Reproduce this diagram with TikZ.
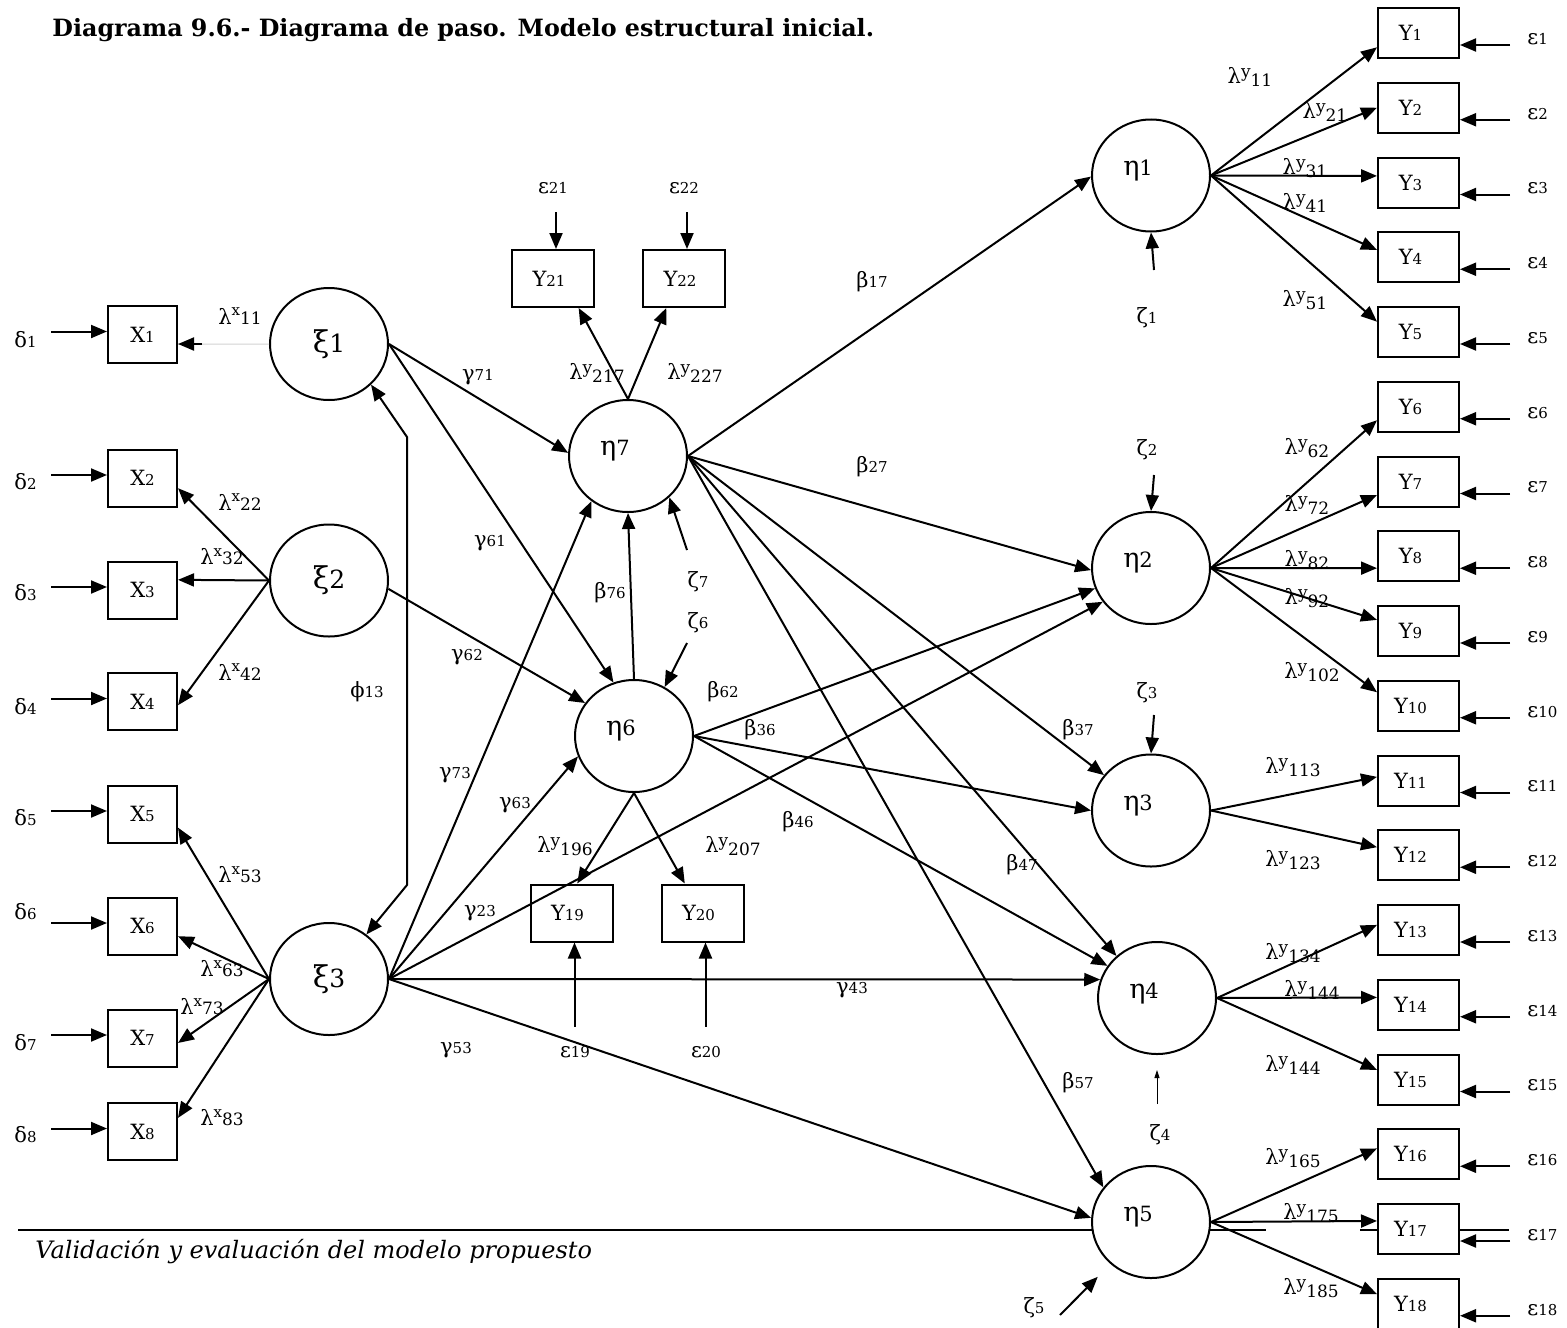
\documentclass[tikz,border=0pt]{standalone}
\usepackage{fontspec}
\setmainfont{DejaVu Serif}
\usetikzlibrary{arrows.meta,calc,shapes.geometric}

% small digits used as indices
\newcommand{\dg}[1]{{\fontsize{7.5}{8}\selectfont #1}}
\newcommand{\bdg}[1]{{\fontsize{7.5}{8}\selectfont #1}}
\newcommand{\lamy}[1]{λ\raisebox{.3em}{\fontsize{8.5}{9}\selectfont y}\raisebox{-.15em}{\fontsize{8.5}{9}\selectfont #1}}
\newcommand{\lamx}[1]{λ\raisebox{.4em}{\fontsize{7.5}{8}\selectfont x}{\fontsize{8.5}{9}\selectfont #1}}

\tikzset{
  lat/.style={ellipse,draw,line width=1pt,fill=white,minimum width=59pt,minimum height=56pt,inner sep=0pt},
  etalab/.style={label={[inner sep=0pt,xshift=-6.5pt,yshift=2.5pt]center:{\fontsize{13.5}{14}\selectfont η\fontsize{10.5}{11}\selectfont #1}}},
  obs/.style={rectangle,draw,line width=1pt,fill=white,minimum width=34.5pt,minimum height=28.5pt,inner sep=0pt,font=\fontsize{10.5}{11}\selectfont},
  obsy/.style={obs,minimum width=40.5pt,minimum height=25pt},
  obsm/.style={obs,minimum width=41pt,minimum height=28.5pt},
  lbl/.style={inner sep=0pt,font=\fontsize{10.5}{11}\selectfont},
  arr/.style={-{Triangle[length=8pt,width=6.5pt]},line width=1pt},
  darr/.style={{Triangle[length=8pt,width=6.5pt]}-{Triangle[length=8pt,width=6.5pt]},line width=1pt},
  rule/.style={line width=1.1pt}
}

\begin{document}
\begin{tikzpicture}[x=0.5pt,y=-0.5pt]
\useasboundingbox (0,0) rectangle (1567,1327);

% title and page footer
\node[anchor=west,inner sep=0pt,font=\fontsize{11.9}{13}\selectfont\bfseries] (title) at (52,30)
  {Diagrama 9.6.- Diagrama de paso. Modelo estructural inicial.};
\draw[rule] (18,1230) -- (1266,1230);
\draw[rule] (1360,1230) -- (1509,1230);
\node[anchor=west,inner sep=0pt,font=\fontsize{12}{13}\selectfont\itshape] (foot) at (35,1252)
  {Validación y evaluación del modelo propuesto};

% exogenous latent variables
\node[lat] (xi1) at (329,344) {\fontsize{15}{15}\selectfont ξ\fontsize{12.5}{13}\selectfont 1};
\node[lat] (xi2) at (329,580.5) {\fontsize{15}{15}\selectfont ξ\fontsize{12.5}{13}\selectfont 2};
\node[lat] (xi3) at (329,979) {\fontsize{15}{15}\selectfont ξ\fontsize{12.5}{13}\selectfont 3};

% endogenous latent variables
\node[lat,etalab=7] (eta7) at (628,456) {};
\node[lat,etalab=6] (eta6) at (634,736) {};
\node[lat,etalab=1] (eta1) at (1151,175.5) {};
\node[lat,etalab=2] (eta2) at (1151,568) {};
\node[lat,etalab=3] (eta3) at (1151,810.5) {};
\node[lat,etalab=4] (eta4) at (1157,998) {};
\node[lat,etalab=5] (eta5) at (1151,1222) {};

% X indicators with their errors
\foreach \i/\y/\dy in {1/334.5/340,2/478/482,3/590/593,4/701.5/707,5/814/818,6/926/912,7/1038/1043,8/1131.5/1135}{
  \node[obs] (X\i) at (142.5,\y) {X\bdg{\i}};
  \node[lbl,anchor=west] (d\i) at (14,\dy) {δ\dg{\i}};
  \draw[arr] ($(X\i.west)+(-56,-3)$) -- ($(X\i.west)+(0,-3)$);
}

% Y indicators 1-18 with their errors
\foreach \i in {1,...,18}{
  \node[obsy] (Y\i) at (1418.5,{33+(\i-1)*74.75}) {Y\bdg{\i}\hspace*{8pt}};
  \node[lbl,anchor=west] (e\i) at (1527,{39+(\i-1)*74.75}) {ε\dg{\i}};
  \draw[arr] ($(Y\i.east)+(50,12)$) -- ($(Y\i.east)+(0,12)$);
}

% Y indicators of eta6 and eta7
\node[obsm] (Y21) at (553,278.5) {Y\bdg{21}\hspace*{4pt}};
\node[obsm] (Y22) at (684,278.5) {Y\bdg{22}\hspace*{4pt}};
\node[obsm] (Y19) at (571.5,913) {Y\bdg{19}\hspace*{4pt}};
\node[obsm] (Y20) at (702.5,913) {Y\bdg{20}\hspace*{4pt}};
\node[lbl] (e21) at (553,188) {ε\dg{21}};
\node[lbl] (e22) at (684,188) {ε\dg{22}};
\node[lbl] (e19) at (575,1052) {ε\dg{19}};
\node[lbl] (e20) at (706,1052) {ε\dg{20}};
\draw[arr] ($(Y21.north)+(3,-37)$) -- ($(Y21.north)+(3,0)$);
\draw[arr] ($(Y22.north)+(3,-37)$) -- ($(Y22.north)+(3,0)$);
\draw[arr] ($(Y19.south)+(3,84)$) -- ($(Y19.south)+(3,0)$);
\draw[arr] ($(Y20.south)+(3,84)$) -- ($(Y20.south)+(3,0)$);
\draw[arr] (eta7.north) -- (Y21.311);
\draw[arr] (eta7.north) -- (Y22.239);
\draw[arr] (eta6.south) -- (Y19.79);
\draw[arr] (eta6.south) -- (Y20.121);

% loadings of the X indicators
\draw[gray!35,line width=0.5pt] (xi1.west) -- (X1.345);
\draw[arr] ($(X1.345)+(24,0)$) -- (X1.345);
\foreach \t/\a in {X2/344,X3/16,X4/354}
  \draw[arr] (xi2.west) -- (\t.\a);
\foreach \t/\a in {X5/339,X6/344,X7/352,X8/21}
  \draw[arr] (xi3.west) -- (\t.\a);

% loadings of the Y indicators
\foreach \s/\t/\a in {eta1/Y1/199,eta1/Y2/180,eta1/Y3/171,eta1/Y4/170,eta1/Y5/166,
                      eta2/Y6/198,eta2/Y7/198,eta2/Y8/196,eta2/Y9/165,eta2/Y10/162,
                      eta3/Y11/175,eta3/Y12/169,
                      eta4/Y13/173,eta4/Y14/170,eta4/Y15/167,
                      eta5/Y16/172,eta5/Y17/169,eta5/Y18/167}
  \draw[arr] (\s.east) -- (\t.\a);

% covariance between xi1 and xi3
\coordinate (phiA) at (407,437);
\coordinate (phiB) at (407,885);
\draw[darr] (xi1.316) -- (phiA) -- (phiB) -- (xi3.50);

% structural paths
\draw[arr] (xi1.east) -- (eta7.177);
\draw[arr] (xi1.east) -- (eta6.111);
\draw[arr] (xi2.352) -- (eta6.146);
\draw[arr] (xi3.east) -- (eta7.231);
\draw[arr] (xi3.east) -- (eta6.200);
\draw[arr] (xi3.east) -- (eta2.215);
\draw[arr] (xi3.east) -- (eta4.162);
\draw[arr] (xi3.east) -- (eta5.176);
\draw[arr] (eta7.east) -- (eta1.181);
\draw[arr] (eta7.east) -- (eta2.182);
\draw[arr] (eta7.east) -- (eta3.143);
\draw[arr] (eta7.east) -- (eta4.134);
\draw[arr] (eta7.east) -- (eta5.144);
\draw[arr] (eta6.north) -- (eta7.south);
\draw[arr] (eta6.east) -- (eta2.200);
\draw[arr] (eta6.east) -- (eta3.180);
\draw[arr] (eta6.east) -- (eta4.147);

% disturbances
\coordinate (z1t) at (1154,270);
\coordinate (z2t) at (1154,475);
\coordinate (z3t) at (1154,715);
\coordinate (z4t) at (1157,1104);
\coordinate (z4h) at (1157,1070);
\coordinate (z5t) at (1060,1315);
\coordinate (z6t) at (687,643);
\coordinate (z7t) at (687,550);
\draw[arr] (z1t) -- (eta1.south);
\draw[arr] (z2t) -- (eta2.north);
\draw[arr] (z3t) -- (eta3.north);
\draw[-{Triangle[length=4pt,width=2.5pt]},line width=0.4pt] (z4t) -- (z4h);
\draw[arr,shorten >=9pt] (z5t) -- (eta5.226);
\draw[arr] (z6t) -- (eta6.58);
\draw[arr] (z7t) -- (eta7.315);

% parameter labels
\foreach \n/\x/\y/\t in {
  lx11/240/316/\lamx{11}, lx22/240/502/\lamx{22}, lx32/222/557/\lamx{32}, lx42/240/672/\lamx{42},
  lx53/240/875/\lamx{53}, lx63/222/969/\lamx{63}, lx73/202/1007/\lamx{73}, lx83/222/1118/\lamx{83},
  phi13/367/692/ϕ\dg{13},
  g71/478/377/γ\dg{71}, g61/490/543/γ\dg{61}, g62/467/657/γ\dg{62}, g73/455/775/γ\dg{73},
  g63/515/805/γ\dg{63}, g23/480/913/γ\dg{23}, g43/852/990/γ\dg{43}, g53/456/1050/γ\dg{53},
  b76/610/593/β\dg{76}, b62/723/692/β\dg{62}, b36/760/730/β\dg{36}, b46/798/822/β\dg{46},
  b47/1022/865/β\dg{47}, b37/1078/730/β\dg{37}, b57/1078/1083/β\dg{57},
  b17/872/282/β\dg{17}, b27/872/467/β\dg{27},
  z1/1147/318/ζ\dg{1}, z2/1147/450/ζ\dg{2}, z3/1147/693/ζ\dg{3}, z4/1160/1135/ζ\dg{4},
  z5/1034/1308/ζ\dg{5}, z6/698/623/ζ\dg{6}, z7/698/582/ζ\dg{7},
  ly217/597/373/\lamy{217}, ly227/695/373/\lamy{227}, ly196/565/846/\lamy{196}, ly207/733/846/\lamy{207},
  ly11/1250/77/\lamy{11}, ly21/1325/112/\lamy{21}, ly31/1305/168/\lamy{31}, ly41/1305/203/\lamy{41},
  ly51/1305/300/\lamy{51}, ly62/1307/448/\lamy{62}, ly72/1307/505/\lamy{72}, ly82/1307/560/\lamy{82},
  ly92/1307/598/\lamy{92}, ly102/1312/672/\lamy{102}, ly113/1293/767/\lamy{113}, ly123/1293/860/\lamy{123},
  ly134/1293/953/\lamy{134}, ly144/1312/990/\lamy{144}, ly154/1293/1065/\lamy{144}, ly165/1293/1158/\lamy{165},
  ly175/1311/1213/\lamy{175}, ly185/1311/1288/\lamy{185}}
  \node[lbl] (\n) at (\x,\y) {\t};

\end{tikzpicture}
\end{document}
